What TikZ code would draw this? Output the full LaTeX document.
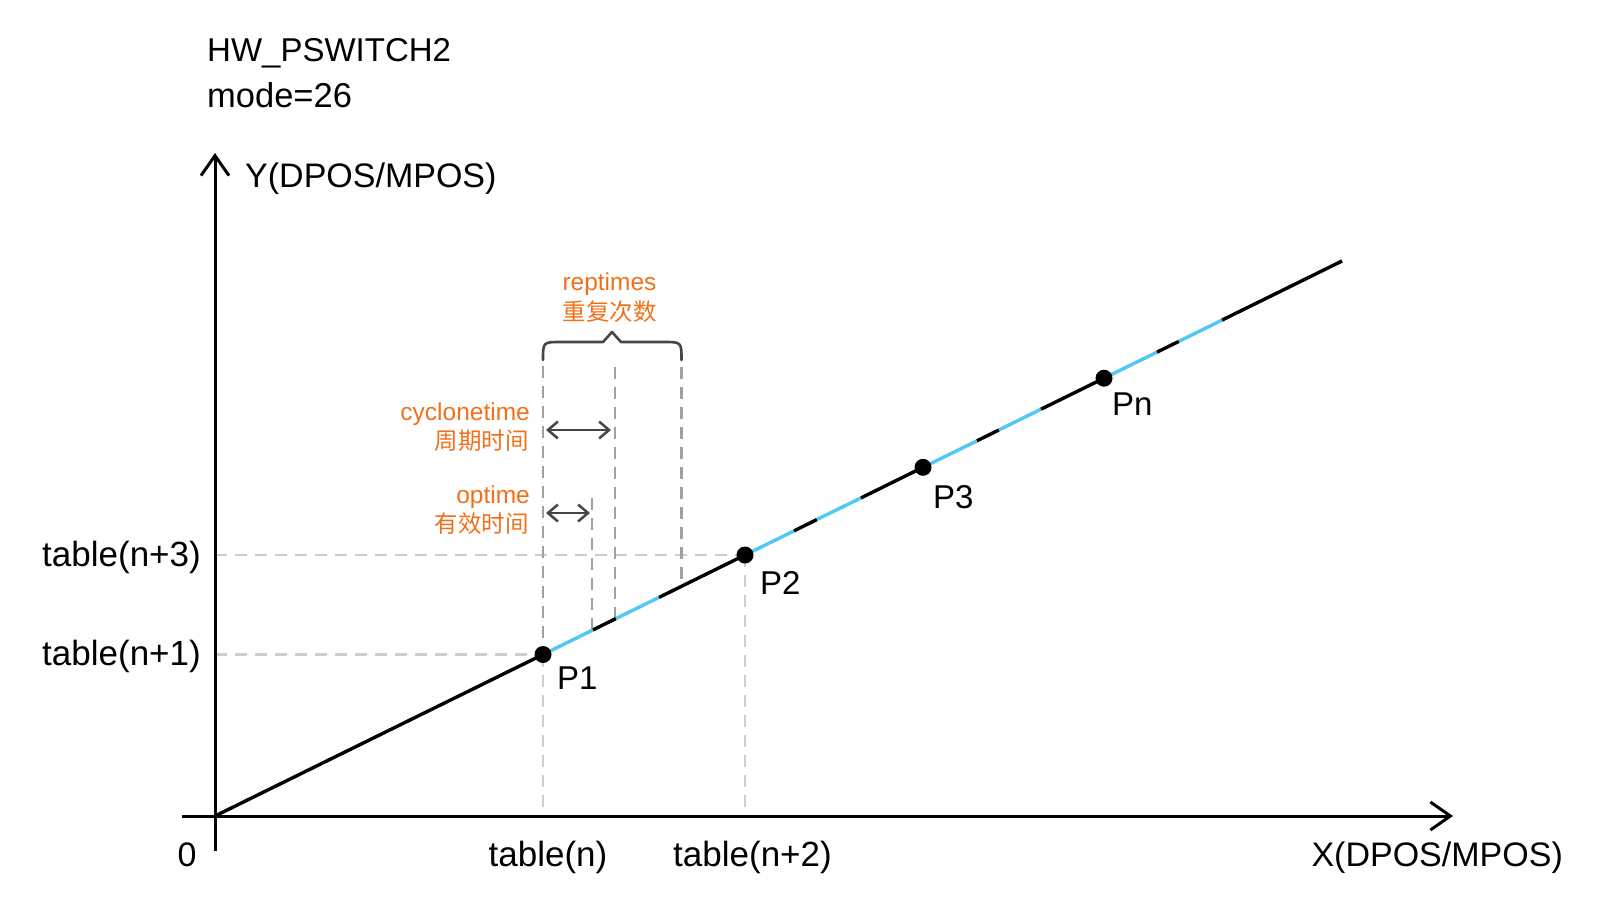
\documentclass[tikz,border=0pt]{standalone}
\usepackage{fontspec}
\setmainfont{Liberation Sans}
\newfontfamily\cjk{Noto Sans CJK SC}
\usetikzlibrary{arrows.meta,calc}
\definecolor{segblue}{RGB}{80,200,245}
\definecolor{lbl}{RGB}{242,112,26}
\definecolor{dgray}{RGB}{160,160,160}
\definecolor{lgray}{RGB}{205,205,205}
\definecolor{brc}{RGB}{70,70,70}
\begin{document}
\begin{tikzpicture}[x=1pt,y=-1pt,
  axis/.style={line width=3pt, -{Straight Barb[length=20pt,width=28pt]}},
  blackpart/.style={line width=3.4pt, black},
  bluepart/.style={line width=3.4pt, segblue},
  dashdark/.style={line width=2.6pt, dgray, dash pattern=on 12pt off 8pt},
  dashlight/.style={line width=2.6pt, lgray, dash pattern=on 12pt off 8pt},
  dimarrow/.style={line width=2.5pt, brc, {Straight Barb[length=10pt,width=17pt]}-{Straight Barb[length=10pt,width=17pt]}},
  bracestyle/.style={line width=2.6pt, brc, line join=round, line cap=round},
  dot/.style={circle, fill=black, inner sep=0pt, minimum size=17pt},
  txt/.style={inner sep=0pt, font=\fontsize{34}{40}\selectfont},
  ptxt/.style={inner sep=0pt, font=\fontsize{33}{40}\selectfont},
  otxt/.style={inner sep=0pt, text=lbl, font=\fontsize{24.5}{30}\selectfont},
  ctxt/.style={inner sep=0pt, text=lbl, font=\fontsize{23.5}{30}\selectfont\cjk},
]
\useasboundingbox (0,0) rectangle (1601,908);

% key points
\coordinate (O) at (215,816);
\coordinate (E) at (1342,261);
\coordinate (P1) at (543,654.5);
\coordinate (a1) at (593,629.9);
\coordinate (a2) at (616,618.5);
\coordinate (a3) at (659,597.4);
\coordinate (P2) at (745,555);
\coordinate (b1) at (794,530.9);
\coordinate (b2) at (817,519.5);
\coordinate (b3) at (861,497.9);
\coordinate (P3) at (923,467.3);
\coordinate (c1) at (977,440.8);
\coordinate (c2) at (999,429.9);
\coordinate (c3) at (1041,409.2);
\coordinate (Pn) at (1104,378.2);
\coordinate (d1) at (1157,352.1);
\coordinate (d2) at (1179,341.3);
\coordinate (d3) at (1222,320.1);

% axes ends
\coordinate (Ybot) at (215,851);
\coordinate (Ytop) at (215,153);
\coordinate (Xleft) at (182,816);
\coordinate (Xright) at (1453,816);

% dashed helper ends
\coordinate (L1top) at (543,366);
\coordinate (L1bot) at (543,816);
\coordinate (L2bot) at (745,816);
\coordinate (H1left) at (215,654.5);
\coordinate (H3left) at (215,555);
\coordinate (OPtop) at (592,498);
\coordinate (OPbot) at (592,630.3);
\coordinate (CYtop) at (615,367);
\coordinate (CYbot) at (615,619);
\coordinate (RPtop) at (681.5,367);
\coordinate (RPbot) at (681.5,586.5);

% dashed lines
\draw[dashlight] (H1left) -- (P1);
\draw[dashlight] (H3left) -- (P2);
\draw[dashlight] (P1) -- (L1bot);
\draw[dashlight] (P2) -- (L2bot);
\draw[dashdark] (L1top) -- (P1);
\draw[dashdark] (OPtop) -- (OPbot);
\draw[dashdark] (CYtop) -- (CYbot);
\draw[dashdark] (RPtop) -- (RPbot);

% axes
\draw[axis] (Ybot) -- (Ytop);
\draw[axis] (Xleft) -- (Xright);

% main line
\draw[blackpart] (O) -- (P1);
\draw[bluepart] (P1) -- (a1);
\draw[blackpart] (a1) -- (a2);
\draw[bluepart] (a2) -- (a3);
\draw[blackpart] (a3) -- (P2);
\draw[bluepart] (P2) -- (b1);
\draw[blackpart] (b1) -- (b2);
\draw[bluepart] (b2) -- (b3);
\draw[blackpart] (b3) -- (P3);
\draw[bluepart] (P3) -- (c1);
\draw[blackpart] (c1) -- (c2);
\draw[bluepart] (c2) -- (c3);
\draw[blackpart] (c3) -- (Pn);
\draw[bluepart] (Pn) -- (d1);
\draw[blackpart] (d1) -- (d2);
\draw[bluepart] (d2) -- (d3);
\draw[blackpart] (d3) -- (E);

% dots
\node[dot] (dP1) at (P1) {};
\node[dot] (dP2) at (P2) {};
\node[dot] (dP3) at (P3) {};
\node[dot] (dPn) at (Pn) {};

% brace
\coordinate (BL) at (543,360);
\coordinate (BR) at (681.5,360);
\coordinate (Btip) at (612,332);
\draw[bracestyle] (BL) .. controls (543,342) .. (561,342) -- (603,342) -- (Btip) -- (621,342) -- (663.5,342) .. controls (681.5,342) .. (BR);

% dimension arrows
\coordinate (cycA) at (546,430);
\coordinate (cycB) at (611,430);
\coordinate (opA) at (546,513);
\coordinate (opB) at (590,513);
\draw[dimarrow] (cycA) -- (cycB);
\draw[dimarrow] (opA) -- (opB);

% texts
\node[txt, anchor=base west, font=\fontsize{33}{40}\selectfont] (title) at (207,61) {HW\_PSWITCH2};
\node[txt, anchor=base west, font=\fontsize{34.5}{40}\selectfont] (mode) at (207,107) {mode=26};
\node[txt, anchor=base west] (ylab) at (245,187) {Y(DPOS/MPOS)};
\node[txt, anchor=base east, font=\fontsize{35}{40}\selectfont] (t3) at (201,566.5) {table(n+3)};
\node[txt, anchor=base east, font=\fontsize{35}{40}\selectfont] (t1) at (201,665.5) {table(n+1)};
\node[txt, anchor=base] (zero) at (187,866) {0};
\node[txt, anchor=base, font=\fontsize{35}{40}\selectfont] (tn) at (548,866) {table(n)};
\node[txt, anchor=base, font=\fontsize{35}{40}\selectfont] (tn2) at (752.5,866) {table(n+2)};
\node[txt, anchor=base east] (xlab) at (1563,866) {X(DPOS/MPOS)};

\node[ptxt, anchor=base west] (lP1) at (557,689) {P1};
\node[ptxt, anchor=base west] (lP2) at (760,594) {P2};
\node[ptxt, anchor=base west] (lP3) at (933,508) {P3};
\node[ptxt, anchor=base west] (lPn) at (1112,415) {Pn};

\node[otxt, anchor=base] (rep) at (609.5,290) {reptimes};
\node[ctxt, anchor=base] (repc) at (609.5,320) {重复次数};
\node[otxt, anchor=base east] (cyc) at (530,420) {cyclonetime};
\node[ctxt, anchor=base east] (cycc) at (529,449) {周期时间};
\node[otxt, anchor=base east] (opt) at (530,503) {optime};
\node[ctxt, anchor=base east] (optc) at (529,532) {有效时间};
\end{tikzpicture}
\end{document}
